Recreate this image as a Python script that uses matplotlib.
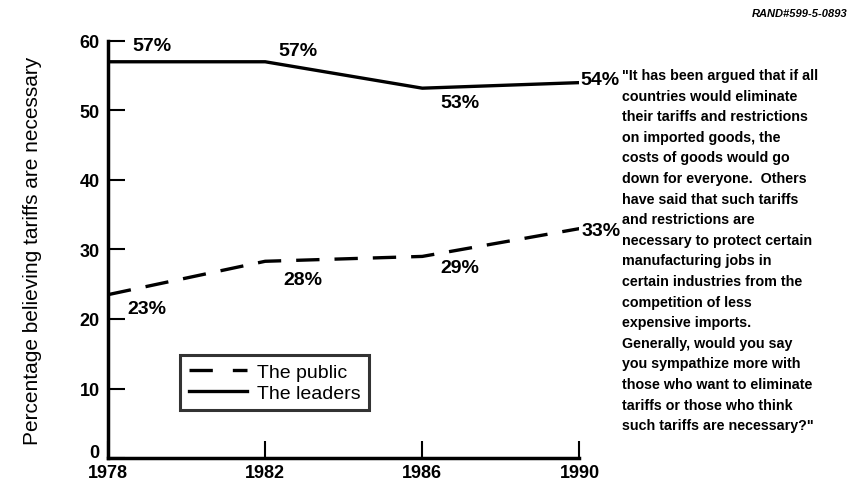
import matplotlib
matplotlib.use("Agg")
import matplotlib.pyplot as plt
from matplotlib.lines import Line2D

plt.rcParams['font.family'] = ['Liberation Sans', 'DejaVu Sans']

years = [1978, 1982, 1986, 1990]
public = [23.5, 28.3, 29.0, 33.0]
leaders = [57.0, 57.0, 53.2, 54.0]
public_labels = ["23%", "28%", "29%", "33%"]
leader_labels = ["57%", "57%", "53%", "54%"]
yticks = [0, 10, 20, 30, 40, 50, 60]

fig = plt.figure(figsize=(8.54, 4.89), dpi=100)
ax = fig.add_axes([0.1265, 0.0613, 0.552, 0.853])

ax.plot(years, leaders, color='black', lw=2.4, solid_capstyle='butt')
ax.plot(years, public, color='black', lw=2.4, dashes=(7, 4.5))

ax.set_xlim(1978, 1990)
ax.set_ylim(0, 60)
ax.set_xticks(years)
ax.set_yticks(yticks)
ax.set_xticklabels([str(y) for y in years], fontsize=13, fontweight='bold')
ylabels = [str(v) for v in yticks]
ax.set_yticklabels([''] + ylabels[1:], fontsize=13, fontweight='bold')
ax.tick_params(axis='both', direction='in', length=12, width=1.5, pad=6)
ax.tick_params(axis='x', pad=4)
for s in ['top', 'right']:
    ax.spines[s].set_visible(False)
for s in ['left', 'bottom']:
    ax.spines[s].set_linewidth(2.5)
ax.set_ylabel("Percentage believing tariffs are necessary", fontsize=15, labelpad=27)

# "0" tick label sits slightly above the 1978 label, as in the original
ax.annotate(ylabels[0], xy=(0, yticks[0]), xycoords=('axes fraction', 'data'),
            xytext=(-9, 6), textcoords='offset pixels', ha='right', va='center',
            fontsize=13, fontweight='bold', annotation_clip=False)

# annotations (offsets in pixels)
lead_off = [(24, 16), (13, 11), (18, -14), (1, 3)]
pub_off = [(19, -14), (18, -18), (18, -11), (2, -2)]
for x, y, t, o in zip(years, leaders, leader_labels, lead_off):
    ax.annotate(t, (x, y), xytext=o, textcoords='offset pixels', fontsize=14,
                fontweight='bold', ha='left', va='center', annotation_clip=False)
for x, y, t, o in zip(years, public, public_labels, pub_off):
    ax.annotate(t, (x, y), xytext=o, textcoords='offset pixels', fontsize=14,
                fontweight='bold', ha='left', va='center', annotation_clip=False)

handles = [Line2D([], [], color='black', lw=2.4, dashes=(7, 6)),
           Line2D([], [], color='black', lw=2.4)]
leg = ax.legend(handles, ["The public", "The leaders"], loc='lower left',
                bbox_to_anchor=(0.14, 0.1), fontsize=14, frameon=True,
                fancybox=False, handlelength=3.0, borderpad=0.45,
                labelspacing=0.15, handletextpad=0.5, borderaxespad=0.3)
leg.get_frame().set_edgecolor('black')
leg.get_frame().set_linewidth(2.2)

fig.text(0.993, 0.972, "RAND#599-5-0893", fontsize=8, fontweight='bold',
         style='italic', ha='right', va='center')

question = ('"It has been argued that if all\n'
            'countries would eliminate\n'
            'their tariffs and restrictions\n'
            'on imported goods, the\n'
            'costs of goods would go\n'
            'down for everyone.  Others\n'
            'have said that such tariffs\n'
            'and restrictions are\n'
            'necessary to protect certain\n'
            'manufacturing jobs in\n'
            'certain industries from the\n'
            'competition of less\n'
            'expensive imports.\n'
            'Generally, would you say\n'
            'you sympathize more with\n'
            'those who want to eliminate\n'
            'tariffs or those who think\n'
            'such tariffs are necessary?"')
fig.text(0.728, 0.859, question, fontsize=10.3, fontweight='bold',
         ha='left', va='top', linespacing=1.6)

fig.savefig("out.png", dpi=100)
